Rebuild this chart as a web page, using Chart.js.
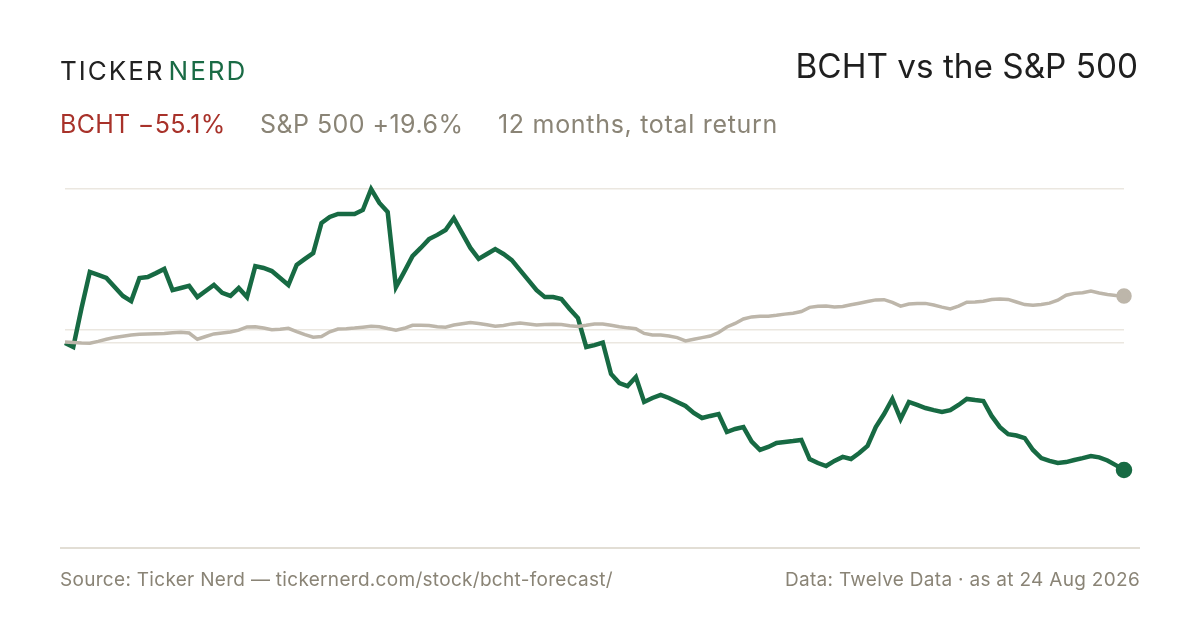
<!DOCTYPE html>
<html>
<head>
<meta charset="utf-8">
<script src="https://cdn.jsdelivr.net/npm/chart.js@4.4.1/dist/chart.umd.min.js"></script>
<style>
  html, body { margin: 0; padding: 0; background: #ffffff; }
  body { width: 1200px; height: 630px; position: relative; overflow: hidden; font-family: Inter, "Noto Sans", sans-serif; }
  #chartWrap { position: absolute; left: 0; top: 0; width: 1200px; height: 630px; }
  .logo { position: absolute; left: 60px; top: 56px; font-size: 26px; letter-spacing: 2px; color: #222; line-height: 30px; white-space: nowrap; }
  .logo span { color: #1a6b45; margin-left: 4px; }
  .title { position: absolute; right: 62px; top: 47px; font-size: 33.3px; color: #1f1f1f; line-height: 38px; }
  .sub { position: absolute; top: 109px; font-size: 25px; line-height: 30px; color: #8a8476; white-space: nowrap; letter-spacing: 0.3px; }
  .sub.bcht { left: 60px; color: #a8322a; }
  .sub.spx { left: 260px; letter-spacing: 0.45px; }
  .sub.note { left: 498px; letter-spacing: 0.7px; }
  .rule { position: absolute; left: 60px; top: 547px; width: 1080px; height: 2px; background: #e2ded5; }
  .foot { position: absolute; top: 568px; font-size: 19px; line-height: 24px; color: #8a8476; white-space: nowrap; letter-spacing: 0.3px; }
  .foot.left { left: 60px; }
  .foot.right { right: 60px; }
</style>
</head>
<body>
<div id="chartWrap"><canvas id="returnChart"></canvas></div>
<div class="logo">TICKER<span>NERD</span></div>
<div class="title">BCHT vs the S&amp;P 500</div>
<div class="sub bcht">BCHT −55.1%</div>
<div class="sub spx">S&amp;P 500 +19.6%</div>
<div class="sub note">12 months, total return</div>
<div class="rule"></div>
<div class="foot left">Source: Ticker Nerd — tickernerd.com/stock/bcht-forecast/</div>
<div class="foot right">Data: Twelve Data · as at 24 Aug 2026</div>
<script>
// cumulative total return (%), sampled every ~2 trading days over 12 months
const bchtReturn = [
  -0.6, -2.3, 14.4, 29.9, 28.6, 27.3, 23.4, 19.6, 17.4, 27.3,
  27.7, 29.4, 31.2, 22.1, 23.0, 23.9, 19.1, 21.7, 24.3, 20.9,
  19.6, 23.0, 19.1, 32.4, 31.6, 30.3, 27.3, 24.3, 32.9, 35.5,
  38.0, 50.9, 53.5, 54.8, 54.8, 54.8, 56.5, 65.5, 59.5, 55.6,
  23.4, 29.9, 36.7, 40.2, 44.0, 45.8, 47.9, 53.0, 46.6, 40.2,
  35.5, 37.6, 39.7, 37.6, 35.0, 30.7, 26.4, 22.1, 19.1, 19.1,
  18.3, 14.0, 10.1, -2.3, -1.5, -0.4, -13.9, -17.8, -19.1, -15.2,
  -25.9, -24.2, -22.9, -24.2, -25.9, -27.6, -30.6, -32.8, -31.9, -31.1,
  -38.8, -37.5, -36.7, -42.9, -46.5, -45.2, -43.5, -43.1, -42.7, -42.2,
  -50.4, -52.1, -53.4, -51.2, -49.5, -50.4, -47.8, -44.8, -36.7, -31.1,
  -24.6, -33.2, -25.9, -27.2, -28.5, -29.4, -30.2, -29.4, -27.2, -24.6,
  -25.1, -25.5, -31.9, -36.7, -39.7, -40.3, -41.4, -46.5, -50.0, -51.2,
  -52.1, -51.7, -50.8, -50.0, -49.1, -49.7, -51.0, -53.0, -55.1
];
const spxReturn = [
  -0.2, -0.4, -0.6, -0.7, 0.1, 1.0, 1.8, 2.3, 2.8, 3.2,
  3.3, 3.4, 3.5, 3.8, 4.0, 3.7, 1.0, 2.2, 3.3, 3.7,
  4.1, 4.9, 6.3, 6.4, 5.8, 5.1, 5.3, 5.7, 4.3, 3.0,
  1.9, 2.2, 4.2, 5.4, 5.5, 5.8, 6.2, 6.6, 6.4, 5.6,
  4.9, 5.7, 7.0, 7.0, 6.9, 6.4, 6.2, 7.1, 7.7, 8.2,
  7.8, 7.2, 6.6, 6.9, 7.6, 8.0, 7.6, 7.1, 7.3, 7.5,
  7.3, 6.8, 6.5, 7.0, 7.6, 7.6, 7.0, 6.4, 5.9, 5.5,
  3.5, 2.8, 2.8, 2.4, 1.7, 0.3, 1.0, 1.7, 2.4, 3.9,
  6.3, 7.8, 9.7, 10.6, 10.9, 10.9, 11.3, 11.8, 12.2, 12.9,
  14.7, 15.2, 15.3, 14.9, 15.1, 15.8, 16.5, 17.2, 17.9, 18.0,
  16.8, 15.2, 16.1, 16.4, 16.4, 15.7, 14.8, 14.0, 15.2, 16.9,
  17.0, 17.3, 18.1, 18.3, 18.1, 17.0, 15.9, 15.6, 15.9, 16.5,
  17.8, 19.9, 20.7, 21.0, 21.7, 20.9, 20.2, 19.8, 19.6
];
const periodLabels = bchtReturn.map((_, i) => i);
const gridValues = [-0.7, 5.3, 65.5];

const lastIndex = bchtReturn.length - 1;
const endDot = ctx => (ctx.dataIndex === lastIndex ? 6 : 0);

const chartCtx = document.getElementById('returnChart').getContext('2d');
new Chart(chartCtx, {
    type: 'line',
    data: {
        labels: periodLabels,
        datasets: [
            {
                label: 'S&P 500',
                data: spxReturn,
                borderColor: '#bdb6aa',
                backgroundColor: '#bdb6aa',
                borderWidth: 3.5,
                pointRadius: endDot,
                pointHoverRadius: 0,
                tension: 0,
                clip: false
            },
            {
                label: 'BCHT',
                data: bchtReturn,
                borderColor: '#176a43',
                backgroundColor: '#176a43',
                borderWidth: 4.5,
                pointRadius: endDot,
                pointHoverRadius: 0,
                tension: 0,
                clip: false
            }
        ]
    },
    options: {
        responsive: true,
        maintainAspectRatio: false,
        animation: false,
        layout: {
            padding: { left: 65, right: 76, top: 189, bottom: 102 }
        },
        plugins: {
            legend: { display: false },
            tooltip: { enabled: false }
        },
        scales: {
            x: {
                type: 'category',
                display: false,
                offset: false
            },
            y: {
                min: -80,
                max: 65.5,
                afterBuildTicks: axis => {
                    axis.ticks = gridValues.map(v => ({ value: v }));
                },
                border: { display: false },
                grid: { color: '#ebe7e0', lineWidth: 1.5, drawTicks: false },
                ticks: { display: false }
            }
        }
    }
});
</script>
</body>
</html>
